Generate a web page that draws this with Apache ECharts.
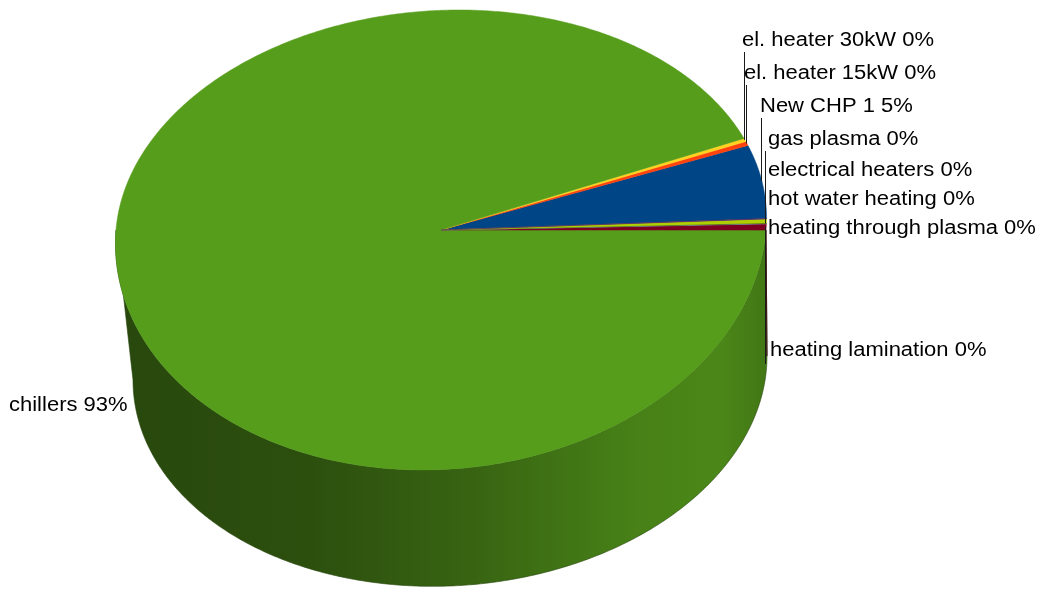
<!DOCTYPE html>
<html>
<head>
<meta charset="utf-8">
<script src="https://cdn.jsdelivr.net/npm/echarts@6/dist/echarts.min.js"></script>
<style>
  html, body { margin: 0; padding: 0; background: #ffffff; }
  #chart { width: 1045px; height: 590px; }
</style>
</head>
<body>
<div id="chart"></div>
<script>
// ---- data (series order, counter-clockwise from start angle) ----
const categories = ['New CHP 1', 'el. heater 15kW', 'el. heater 30kW', 'chillers',
  'heating lamination', 'heating through plasma', 'hot water heating',
  'electrical heaters', 'gas plasma'];
const values = [5.45, 0.3, 0.25, 93.16, 0.45, 0.03, 0.03, 0.3, 0.03];
const colors = ['#004586', '#ff420e', '#ffd320', '#579d1c', '#7e0021',
  '#83caff', '#314004', '#aecf00', '#4b1f6f'];

// ---- layout / style (not data) ----
// top face: x = cx + rx*cos + shear*sin ; y = cy - ry*sin (ry differs for far/near half)
const TOP = { cx: 441, cy: 230, rx: 325, ryFar: 220, ryNear: 240, shear: 18 };
// bottom rim of the side wall (perspective-distorted ellipse)
const BOT = { cx: 450, cy: 368, rx: 317, ry: 218, tilt: 12 };
const START_ANGLE = 3;
const LABEL_POS = {
  'el. heater 30kW':        { x: 742, y: 40,  line: true },
  'el. heater 15kW':        { x: 744, y: 73,  line: true },
  'New CHP 1':              { x: 760, y: 106, line: true },
  'gas plasma':             { x: 768, y: 139, line: true },
  'electrical heaters':     { x: 768, y: 170, line: true },
  'hot water heating':      { x: 768, y: 199, line: true },
  'heating through plasma': { x: 768, y: 228, line: false },
  'heating lamination':     { x: 770, y: 350, line: true },
  'chillers':               { x: 9,   y: 405, line: false }
};
const FONT = { family: '"Liberation Sans", Arial, sans-serif', size: 20, stretch: 1.1 };

const total = values.reduce((a, b) => a + b, 0);
const angles = [];
{
  let acc = START_ANGLE;
  values.forEach(v => {
    const span = v / total * 360;
    angles.push([acc, acc + span]);
    acc += span;
  });
}

function topPt(deg) {
  const r = deg * Math.PI / 180;
  const s = Math.sin(r), c = Math.cos(r);
  const ry = s >= 0 ? TOP.ryFar : TOP.ryNear;
  return [TOP.cx + TOP.rx * c + TOP.shear * s, TOP.cy - ry * s];
}
function botPt(deg) {
  const r = deg * Math.PI / 180;
  const s = Math.sin(r), c = Math.cos(r);
  return [BOT.cx + BOT.rx * c, BOT.cy - BOT.ry * s - BOT.tilt * c];
}
function arc(fn, a1, a2) {
  const pts = [];
  const n = Math.max(2, Math.ceil(Math.abs(a2 - a1) / 0.5));
  for (let i = 0; i <= n; i++) pts.push(fn(a1 + (a2 - a1) * i / n));
  return pts;
}
function shade(hex, f) {
  const n = parseInt(hex.slice(1), 16);
  const r = Math.min(255, Math.round(((n >> 16) & 255) * f));
  const g = Math.min(255, Math.round(((n >> 8) & 255) * f));
  const b = Math.min(255, Math.round((n & 255) * f));
  return 'rgb(' + r + ',' + g + ',' + b + ')';
}
function sideGradient(hex) {
  return {
    type: 'linear', global: true,
    x: TOP.cx - TOP.rx, y: 0, x2: TOP.cx + TOP.rx, y2: 0,
    colorStops: [
      { offset: 0, color: shade(hex, 0.46) },
      { offset: 0.3, color: shade(hex, 0.5) },
      { offset: 0.55, color: shade(hex, 0.64) },
      { offset: 0.8, color: shade(hex, 0.82) },
      { offset: 0.93, color: shade(hex, 0.86) },
      { offset: 1, color: shade(hex, 0.76) }
    ]
  };
}

const chart = echarts.init(document.getElementById('chart'), null, { renderer: 'canvas' });

function renderSide(params, api) {
  const i = params.dataIndex;
  const [a1, a2] = angles[i];
  const children = [];
  [[180, 360], [540, 720]].forEach(([lo, hi]) => {
    const s = Math.max(a1, lo), e = Math.min(a2, hi);
    if (e > s) {
      const top = arc(topPt, s, e);
      const bot = arc(botPt, e, s);
      children.push({
        type: 'polygon',
        shape: { points: top.concat(bot) },
        style: { fill: sideGradient(colors[i]), stroke: shade(colors[i], 0.45), lineWidth: 0.6 }
      });
    }
  });
  return { type: 'group', children };
}

function renderTop(params, api) {
  const i = params.dataIndex;
  const [a1, a2] = angles[i];
  const pts = [[TOP.cx, TOP.cy]].concat(arc(topPt, a1, a2));
  return {
    type: 'polygon',
    shape: { points: pts },
    style: { fill: colors[i], stroke: colors[i], lineWidth: 0.5 }
  };
}

const graphics = [];
categories.forEach((name, i) => {
  const pos = LABEL_POS[name];
  const pct = Math.round(values[i] / total * 100);
  const text = name + ' ' + pct + '%';
  if (pos.line) {
    const mid = (angles[i][0] + angles[i][1]) / 2;
    const p = topPt(mid);
    const lx = Math.round(p[0]) - 0.5;
    const yLabelEdge = p[1] > pos.y ? pos.y + 12 : pos.y + 14;
    graphics.push({
      type: 'line', z: 10,
      shape: { x1: lx, y1: yLabelEdge, x2: lx, y2: p[1] },
      style: { stroke: '#1a1a1a', lineWidth: 1 }
    });
  }
  graphics.push({
    type: 'text', z: 11,
    x: pos.x, y: pos.y, scaleX: FONT.stretch,
    style: {
      text: text, fill: '#000000',
      fontFamily: FONT.family, fontSize: FONT.size,
      align: 'left', verticalAlign: 'middle'
    }
  });
});

chart.setOption({
  backgroundColor: '#ffffff',
  animation: false,
  series: [
    { type: 'custom', coordinateSystem: 'none', z: 1, renderItem: renderSide,
      data: values.map(v => [v]), silent: true },
    { type: 'custom', coordinateSystem: 'none', z: 2, renderItem: renderTop,
      data: values.map(v => [v]), silent: true }
  ],
  graphic: graphics
});
</script>
</body>
</html>
